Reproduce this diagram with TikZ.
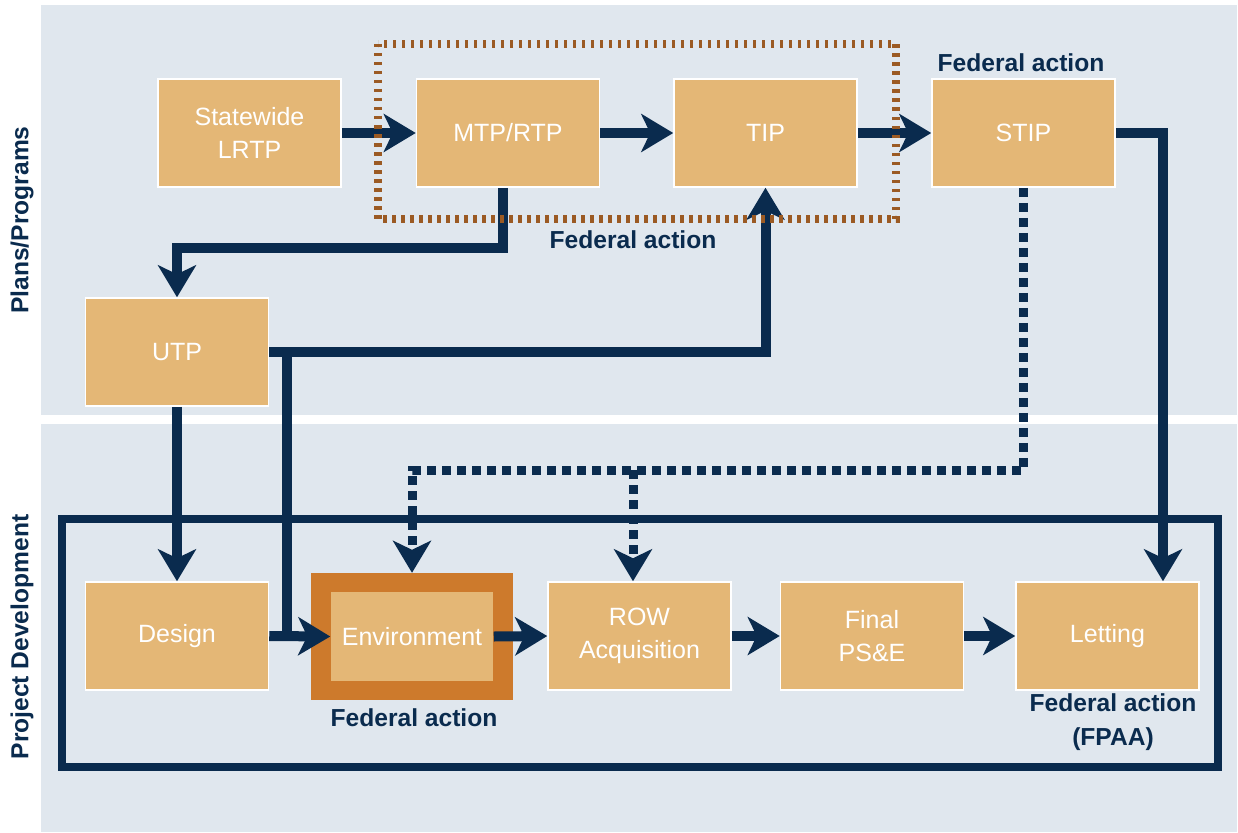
\documentclass[tikz,border=0pt]{standalone}
\usepackage{fontspec}
\setmainfont{Liberation Sans}
\usetikzlibrary{arrows.meta}
\definecolor{navy}{HTML}{0A2B4E}
\definecolor{panel}{HTML}{E0E7EE}
\definecolor{tanbox}{HTML}{E4B776}
\definecolor{envorange}{HTML}{CD7A2C}
\definecolor{brownd}{HTML}{9B5A23}
\begin{document}
\begin{tikzpicture}[x=1pt,y=-1pt,
  box/.style={draw=white, line width=1.5pt, fill=tanbox, text=white, align=center,
    minimum width=183pt, minimum height=108pt, inner sep=0pt,
    font=\fontsize{25}{33}\selectfont},
  flow/.style={draw=navy, line width=10pt, -{Stealth[length=32pt,width=38pt,inset=9pt]}},
  plainflow/.style={draw=navy, line width=10pt},
  dotflow/.style={draw=navy, line width=9pt, dash pattern=on 9pt off 6pt,
    -{Stealth[length=32pt,width=38pt,inset=9pt]}},
  fed/.style={text=navy, font=\bfseries\fontsize{24.6}{34}\selectfont, align=center, inner sep=0pt},
  side/.style={text=navy, font=\bfseries\fontsize{24.6}{30}\selectfont, inner sep=0pt, rotate=90}
]
\useasboundingbox (0,0) rectangle (1238,832);
\fill[white] (0,0) rectangle (1238,832);
\fill[panel] (41,5) rectangle (1237,415);
\fill[panel] (41,424) rectangle (1237,832);

% side labels
\node[side] (lblplans) at (22,220) {Plans/Programs};
\node[side] (lblproj) at (22,637) {Project Development};

% project development frame
\draw[navy, line width=8pt] (62,519) rectangle (1218,767);

% boxes
\node[box] (lrtp) at (249.5,133) {Statewide\\LRTP};
\node[box] (mtp) at (508,133) {MTP/RTP};
\node[box] (tip) at (765.5,133) {TIP};
\node[box] (stip) at (1023.5,133) {STIP};
\node[box] (utp) at (177,352) {UTP};
\node[box] (design) at (177,636) {Design};
\node[fill=envorange, minimum width=202pt, minimum height=127pt, inner sep=0pt] (envo) at (412,636.5) {};
\node[box, draw=none, minimum width=162pt, minimum height=89pt] (env) at (412,636.5) {Environment};
\node[box] (row) at (639.5,636) {ROW\\Acquisition};
\node[box] (final) at (872,636) {Final\\PS\&E};
\node[box] (letting) at (1107.5,636) {Letting};

% coordinates
\coordinate (m1) at (503,248);
\coordinate (j1) at (287,352);
\coordinate (j2) at (287,636);
\coordinate (s1) at (1163,133);
\coordinate (dj) at (1023.5,470);
\coordinate (dr) at (633,470);

% solid connectors
\draw[flow] (lrtp.east) -- (mtp.west);
\draw[flow] (mtp.east) -- (tip.west);
\draw[flow] (tip.east) -- (stip.west);
\draw[flow] (mtp.south -| m1) -- (m1) -| (utp.north);
\draw[flow] (utp.east) -| (tip.south);
\draw[plainflow] (j1) -- (j2);
\draw[flow] (design.east) -- (env.west);
\draw[flow] (utp.south) -- (design.north);
\draw[flow] (env.east) -- (row.west);
\draw[flow] (row.east) -- (final.west);
\draw[flow] (final.east) -- (letting.west);
\draw[flow] (stip.east) -- (s1) -- (s1 |- letting.north);

% dotted connectors
\draw[dotflow] (stip.south) -- (dj) -| (envo.north);
\draw[dotflow] (dr) -- (dr |- row.north);

% federal action dotted box
\draw[brownd, line width=8pt, dash pattern=on 3.5pt off 5.5pt] (378,44) rectangle (896,219);

% labels
\node[fed] (fa1) at (633,240) {Federal action};
\node[fed] (fa2) at (1021,63) {Federal action};
\node[fed] (fa3) at (414,718) {Federal action};
\node[fed] (fa4) at (1113,722) {Federal action\\(FPAA)};
\end{tikzpicture}
\end{document}
